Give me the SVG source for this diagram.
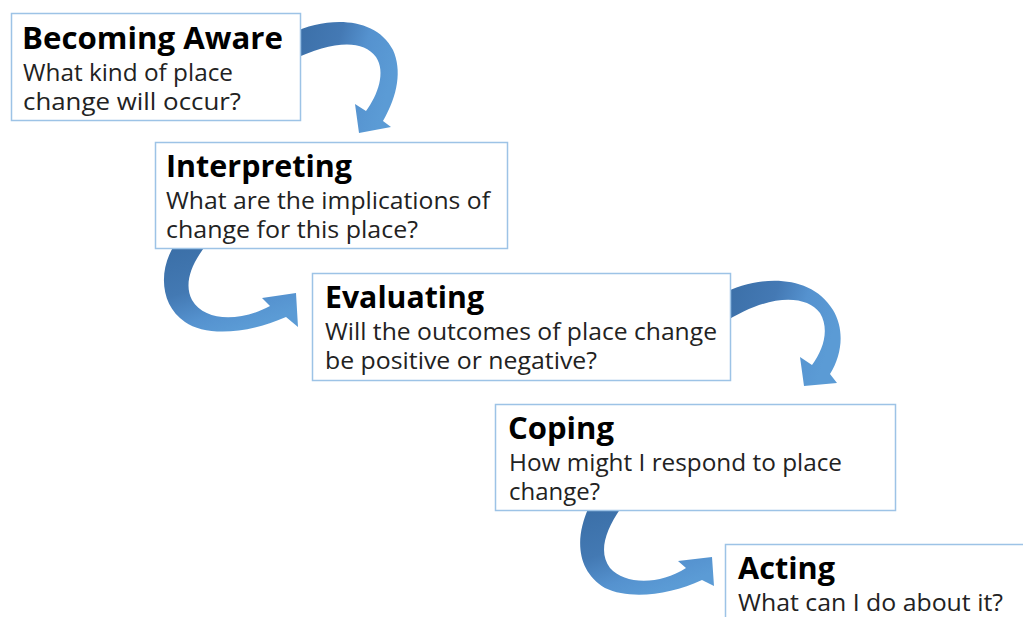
<svg xmlns="http://www.w3.org/2000/svg" width="1023" height="617" viewBox="0 0 1023 617">
<defs>
<linearGradient id="gH" x1="0" y1="0" x2="1" y2="0.3">
<stop offset="0" stop-color="#3A6EA6"/>
<stop offset="0.45" stop-color="#4479B4"/>
<stop offset="0.7" stop-color="#5592CF"/>
<stop offset="1" stop-color="#5B9BD5"/>
</linearGradient>
<linearGradient id="gV" x1="0" y1="0" x2="0.5" y2="1">
<stop offset="0" stop-color="#3A6EA6"/>
<stop offset="0.5" stop-color="#4379B3"/>
<stop offset="0.8" stop-color="#5592CF"/>
<stop offset="1" stop-color="#5B9BD5"/>
</linearGradient>
<style>
.box{fill:#fff;stroke:#9DC3E6;stroke-width:1.5}
.t{font-family:"Open Sans","Noto Sans","Liberation Sans",sans-serif;font-weight:bold;font-size:30.5px;fill:#000}
.b{font-family:"Open Sans","Noto Sans","Liberation Sans",sans-serif;font-size:23.5px;fill:#222}
</style>
</defs>
<g id="connectors">
<path fill="url(#gH)" d="M292,33 C325,17 375,15 393,50 C402,70 398,95 383,121 L391,127 L359,133 L355,104 L366,111 C378,95 386,72 376,57 C362,38 330,42 292,60 Z"/>
<path fill="url(#gV)" d="M175,244 C158,270 160,305 185,322 C205,336 245,335 286,317 L298,327 L296,293 L262,298 L270,306 C240,322 205,322 192,300 C184,285 190,265 207,244 Z"/>
<path fill="url(#gH)" d="M722,294 C755,276 810,272 833,310 C845,330 842,355 830,374 L837,383 L804,386 L800,357 L812,365 C823,350 830,330 820,313 C805,293 765,295 722,324 Z"/>
<path fill="url(#gV)" d="M590,505 C575,535 575,570 605,588 C630,600 670,595 702,580 L714,586 L712,557 L678,561 L686,568 C660,585 625,585 610,568 C598,552 605,530 623,505 Z"/>
</g>
<g id="node-becoming-aware">
<rect class="box" x="11.5" y="13.5" width="289" height="107"/>
<text class="t" x="22" y="49" textLength="261" lengthAdjust="spacingAndGlyphs">Becoming Aware</text>
<text class="b" x="23" y="81" textLength="210" lengthAdjust="spacingAndGlyphs">What kind of place</text>
<text class="b" x="23" y="110" textLength="218" lengthAdjust="spacingAndGlyphs">change will occur?</text>
</g>
<g id="node-interpreting">
<rect class="box" x="155.5" y="142.5" width="352" height="106"/>
<text class="t" x="166" y="177" textLength="186" lengthAdjust="spacingAndGlyphs">Interpreting</text>
<text class="b" x="166" y="209" textLength="324" lengthAdjust="spacingAndGlyphs">What are the implications of</text>
<text class="b" x="166" y="238" textLength="252" lengthAdjust="spacingAndGlyphs">change for this place?</text>
</g>
<g id="node-evaluating">
<rect class="box" x="312.5" y="273.5" width="418" height="107"/>
<text class="t" x="325" y="308" textLength="159" lengthAdjust="spacingAndGlyphs">Evaluating</text>
<text class="b" x="325" y="340" textLength="392" lengthAdjust="spacingAndGlyphs">Will the outcomes of place change</text>
<text class="b" x="325" y="369" textLength="272" lengthAdjust="spacingAndGlyphs">be positive or negative?</text>
</g>
<g id="node-coping">
<rect class="box" x="495.5" y="404.5" width="400" height="106"/>
<text class="t" x="508" y="439" textLength="106" lengthAdjust="spacingAndGlyphs">Coping</text>
<text class="b" x="509" y="471" textLength="333" lengthAdjust="spacingAndGlyphs">How might I respond to place</text>
<text class="b" x="509" y="500" textLength="91" lengthAdjust="spacingAndGlyphs">change?</text>
</g>
<g id="node-acting">
<rect class="box" x="725.5" y="544.5" width="310" height="90"/>
<text class="t" x="738" y="579" textLength="97" lengthAdjust="spacingAndGlyphs">Acting</text>
<text class="b" x="738" y="611" textLength="265" lengthAdjust="spacingAndGlyphs">What can I do about it?</text>
</g>
</svg>
